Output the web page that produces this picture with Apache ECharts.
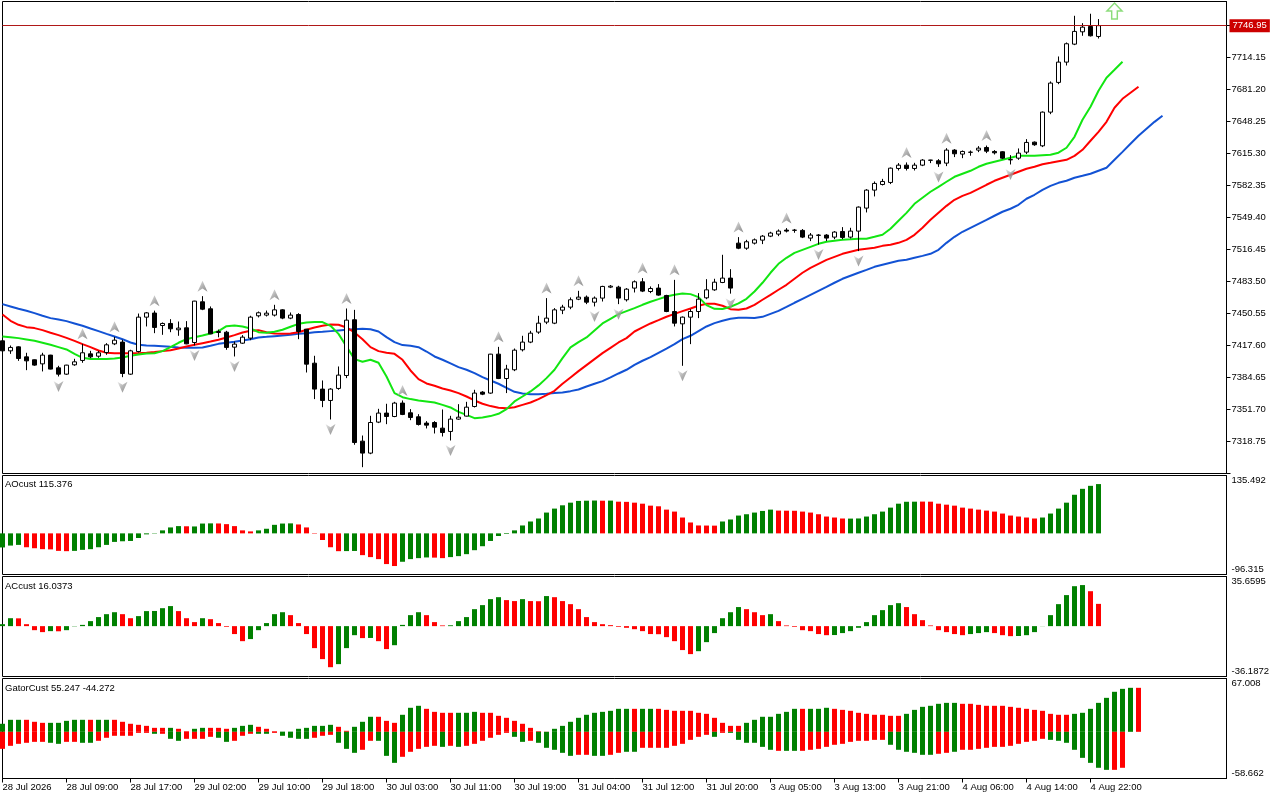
<!DOCTYPE html>
<html><head><meta charset="utf-8">
<script src="https://cdn.jsdelivr.net/npm/echarts@6/dist/echarts.min.js"></script>
<style>html,body{margin:0;padding:0;background:#fff}#c{width:1280px;height:800px}</style>
</head><body><div id="c"></div>
<script>
const tickLabels = ["28 Jul 2026","28 Jul 09:00","28 Jul 17:00","29 Jul 02:00","29 Jul 10:00","29 Jul 18:00","30 Jul 03:00","30 Jul 11:00","30 Jul 19:00","31 Jul 04:00","31 Jul 12:00","31 Jul 20:00","3 Aug 05:00","3 Aug 13:00","3 Aug 21:00","4 Aug 06:00","4 Aug 14:00","4 Aug 22:00"];

const opens = [7422.4,7412.1,7416.2,7405.9,7402.9,7398.7,7407.7,7394.6,7388.1,7397.7,
7402.2,7409.0,7406.6,7410.4,7419.3,7421.1,7388.1,7411.4,7446.8,7451.0,
7438.2,7440.3,7433.8,7435.8,7420.7,7462.6,7455.4,7431.0,7431.3,7415.9,
7420.0,7425.2,7448.2,7448.9,7448.9,7454.3,7445.8,7449.5,7434.4,7399.4,
7372.7,7361.0,7373.4,7386.7,7444.1,7319.1,7306.8,7338.7,7348.0,7344.5,
7358.3,7348.3,7344.2,7337.7,7338.3,7332.5,7329.1,7341.8,7344.9,7354.8,
7369.6,7368.6,7408.7,7383.6,7392.6,7413.2,7421.1,7431.4,7441.7,7440.6,
7454.0,7457.1,7465.3,7467.4,7462.2,7466.4,7477.7,7477.7,7464.7,7476.7,
7483.2,7473.2,7476.7,7469.1,7452.6,7439.9,7446.8,7452.6,7466.7,7474.9,
7482.5,7487.0,7523.0,7517.8,7523.0,7526.1,7530.2,7532.3,7536.4,7536.2,
7536.1,7528.2,7531.0,7531.3,7529.2,7535.0,7529.2,7535.4,7559.1,7577.6,
7583.4,7585.5,7599.9,7603.3,7599.9,7603.3,7608.3,7607.8,7605.4,7618.8,
7614.7,7616.5,7618.8,7621.5,7617.4,7617.1,7609.0,7610.5,7616.7,7627.0,
7623.2,7657.9,7688.5,7709.4,7727.9,7740.6,7746.1,7735.8];
const highs = [7424.1,7417.6,7416.8,7410.1,7403.2,7410.1,7408.0,7396.7,7397.7,7403.9,
7419.3,7412.1,7412.1,7420.0,7426.5,7423.5,7413.2,7450.5,7452.0,7453.5,
7441.3,7444.7,7442.3,7442.7,7463.6,7468.4,7457.8,7434.0,7432.7,7421.7,
7428.3,7448.2,7452.6,7453.6,7459.5,7455.0,7451.6,7450.9,7434.6,7407.0,
7381.6,7373.7,7396.0,7455.7,7454.3,7324.9,7345.2,7352.4,7357.6,7359.6,
7361.0,7352.1,7346.9,7339.7,7339.7,7351.7,7345.2,7357.2,7359.6,7372.0,
7370.6,7409.0,7416.2,7397.7,7414.5,7427.6,7432.7,7448.2,7466.4,7456.1,
7459.5,7467.1,7473.9,7469.1,7468.1,7479.1,7479.8,7479.1,7476.7,7484.6,
7487.0,7478.4,7480.8,7469.8,7485.2,7447.5,7455.0,7471.5,7485.9,7486.3,
7511.0,7496.2,7529.2,7526.4,7527.8,7531.3,7534.7,7537.1,7538.5,7537.6,
7537.5,7533.4,7532.3,7532.3,7535.4,7539.5,7538.8,7560.8,7578.6,7586.5,
7589.2,7600.9,7605.4,7606.1,7605.7,7609.5,7608.8,7609.5,7620.8,7619.8,
7618.4,7618.4,7622.9,7623.5,7618.8,7617.7,7613.6,7620.5,7630.1,7627.7,
7658.6,7689.5,7715.2,7729.6,7757.1,7749.5,7759.2,7753.7];
const lows = [7411.4,7409.0,7401.8,7392.2,7396.7,7390.9,7393.0,7385.7,7387.4,7396.7,
7399.8,7404.6,7404.9,7408.0,7418.0,7385.0,7387.4,7410.4,7437.2,7430.3,
7428.6,7431.3,7427.6,7418.9,7417.6,7454.0,7429.3,7426.0,7413.2,7406.3,
7419.3,7423.1,7446.5,7447.5,7447.5,7444.7,7444.7,7424.1,7389.8,7362.4,
7354.1,7341.4,7372.0,7384.0,7315.4,7292.3,7305.7,7337.7,7336.6,7343.8,
7345.9,7340.7,7335.2,7332.2,7327.0,7323.9,7319.8,7341.1,7344.5,7353.8,
7366.5,7367.9,7383.0,7368.6,7391.2,7411.5,7420.0,7429.6,7439.6,7439.6,
7449.9,7455.0,7464.3,7460.2,7457.8,7462.9,7476.7,7460.2,7462.9,7472.2,
7472.6,7471.5,7468.8,7451.9,7437.2,7396.7,7419.0,7445.8,7465.3,7473.9,
7481.8,7471.0,7516.8,7516.1,7521.6,7522.0,7529.2,7530.2,7534.0,7533.7,
7528.2,7525.1,7521.5,7525.1,7527.1,7527.1,7527.8,7514.8,7554.6,7571.1,
7582.4,7583.8,7597.8,7597.8,7597.8,7602.3,7605.4,7601.5,7602.3,7611.6,
7610.5,7613.0,7616.7,7615.7,7614.3,7609.5,7604.0,7608.8,7614.7,7623.2,
7621.9,7655.8,7686.7,7705.9,7726.9,7736.5,7735.8,7733.7];
const closes = [7412.1,7415.6,7404.2,7401.8,7397.4,7407.7,7393.3,7388.1,7397.4,7400.8,
7410.1,7405.9,7410.1,7418.3,7423.1,7388.8,7412.1,7446.8,7451.2,7436.2,
7440.3,7434.8,7435.5,7419.3,7463.3,7455.0,7429.6,7432.0,7415.6,7419.0,
7426.2,7446.8,7451.3,7450.9,7454.3,7445.8,7448.9,7432.0,7398.4,7372.7,
7361.0,7372.7,7387.1,7443.7,7317.7,7306.8,7338.3,7348.0,7344.5,7358.3,
7346.6,7343.5,7336.3,7335.6,7333.5,7328.0,7341.8,7343.8,7354.1,7368.6,
7367.5,7408.7,7383.6,7393.3,7412.8,7421.1,7430.3,7440.6,7445.8,7454.3,
7457.1,7464.7,7467.4,7462.2,7466.4,7478.4,7478.7,7466.4,7475.6,7483.2,
7473.6,7476.3,7469.5,7452.6,7440.6,7446.8,7452.6,7465.3,7474.9,7482.8,
7487.0,7476.7,7517.8,7524.4,7526.4,7530.2,7533.4,7535.4,7535.4,7536.4,
7529.2,7531.3,7531.3,7528.2,7534.4,7528.9,7535.4,7560.1,7577.6,7584.5,
7586.5,7600.2,7603.3,7599.9,7603.3,7608.5,7608.5,7604.7,7618.8,7615.0,
7617.4,7616.7,7620.8,7617.7,7616.0,7610.5,7608.8,7615.7,7626.7,7624.3,
7657.9,7687.8,7709.4,7728.3,7741.0,7745.4,7736.5,7746.95];

const lips = [7426.9,7426.2,7425.2,7423.8,7422.4,7420.4,7418.3,7415.9,7413.5,7409.0,
7404.9,7403.6,7403.6,7403.6,7404.2,7405.3,7407.0,7408.4,7409.4,7409.7,
7411.8,7415.9,7420.4,7424.1,7426.2,7427.9,7430.0,7432.4,7437.5,7438.2,
7437.2,7435.1,7431.3,7430.7,7431.7,7433.8,7436.9,7439.9,7441.3,7441.7,
7441.7,7437.9,7429.6,7416.6,7403.6,7400.8,7402.9,7399.8,7385.7,7368.6,
7364.4,7362.4,7361.0,7360.0,7358.9,7356.5,7353.8,7349.3,7346.2,7342.8,
7343.5,7344.9,7347.3,7352.1,7360.0,7365.1,7370.3,7376.5,7384.0,7392.6,
7404.6,7415.6,7421.1,7425.9,7433.1,7440.3,7445.1,7449.9,7453.0,7456.1,
7459.5,7462.6,7465.3,7468.1,7469.8,7471.2,7470.5,7467.4,7459.2,7455.4,
7455.1,7457.5,7460.9,7465.7,7473.2,7482.2,7492.5,7501.7,7507.9,7513.0,
7516.1,7519.2,7522.3,7524.4,7525.4,7526.4,7526.9,7527.5,7527.5,7529.5,
7531.6,7537.8,7546.0,7554.2,7563.5,7569.7,7575.9,7581.0,7586.2,7591.3,
7594.4,7597.5,7601.6,7604.7,7606.8,7608.8,7610.9,7613.0,7613.0,7613.0,
7613.5,7614.0,7616.1,7621.2,7632.5,7650.0,7663.4,7679.9,7693.3,7701.5,
7709.8];
const teeth = [7449.5,7443.0,7438.9,7436.5,7435.5,7433.4,7430.7,7428.3,7425.5,7422.4,
7419.0,7415.9,7412.5,7410.1,7409.7,7409.7,7409.7,7409.7,7410.1,7410.8,
7411.8,7412.8,7414.5,7416.6,7418.3,7420.0,7421.7,7423.5,7425.9,7428.3,
7431.0,7432.7,7433.4,7431.3,7430.0,7429.6,7430.0,7431.3,7433.8,7436.2,
7437.9,7439.2,7438.9,7436.2,7431.0,7424.1,7415.9,7411.8,7410.1,7409.0,
7402.9,7391.9,7383.0,7378.5,7376.1,7373.4,7371.3,7368.6,7365.1,7361.0,
7357.6,7355.2,7353.4,7353.1,7354.1,7356.5,7358.9,7362.4,7366.5,7370.9,
7378.2,7384.7,7391.2,7397.4,7403.6,7409.7,7415.2,7420.7,7425.2,7432.0,
7436.2,7440.3,7443.7,7447.2,7450.2,7453.0,7455.7,7458.5,7460.5,7460.5,
7458.5,7455.0,7454.3,7455.7,7459.5,7464.7,7469.8,7475.0,7480.1,7486.3,
7492.5,7497.6,7501.7,7505.8,7508.9,7512.0,7514.1,7516.1,7517.2,7518.2,
7520.2,7521.3,7523.3,7526.4,7531.6,7538.8,7547.0,7554.2,7561.4,7567.6,
7571.7,7574.8,7578.9,7583.1,7587.2,7590.3,7593.4,7596.5,7599.6,7601.6,
7604.2,7605.7,7607.3,7608.8,7612.9,7619.1,7628.4,7637.6,7647.9,7662.4,
7671.6,7677.8,7684.0];
const jaw = [7460.2,7457.8,7455.4,7453.3,7450.9,7448.2,7445.8,7444.4,7442.7,7440.3,
7437.9,7435.1,7432.4,7429.6,7426.9,7424.1,7420.7,7418.3,7417.6,7417.3,
7416.9,7416.2,7415.6,7415.2,7415.2,7415.6,7417.3,7419.3,7420.4,7421.4,
7422.8,7424.1,7425.9,7426.5,7427.2,7427.9,7428.6,7429.6,7430.3,7431.3,
7431.7,7432.4,7433.1,7433.8,7434.4,7434.8,7434.4,7432.0,7426.2,7421.1,
7418.0,7417.3,7415.9,7411.4,7406.3,7402.9,7399.1,7395.3,7392.6,7389.1,
7385.0,7381.6,7378.2,7374.0,7369.9,7368.2,7367.5,7367.5,7367.9,7368.6,
7369.2,7370.6,7372.3,7375.4,7378.2,7380.9,7384.7,7388.8,7392.6,7397.7,
7401.9,7405.6,7410.1,7414.5,7419.0,7424.2,7427.6,7432.4,7437.2,7440.6,
7443.0,7445.1,7446.1,7446.1,7445.8,7447.1,7450.2,7453.3,7457.4,7461.6,
7465.7,7469.8,7473.9,7478.0,7482.2,7486.3,7489.4,7492.5,7495.5,7498.6,
7500.7,7502.8,7504.8,7505.8,7507.9,7509.9,7512.0,7516.1,7523.3,7529.5,
7534.7,7538.8,7542.9,7547.0,7551.2,7555.3,7558.4,7562.5,7568.7,7572.8,
7577.9,7582.0,7585.1,7587.2,7590.3,7592.3,7594.4,7597.5,7600.6,7608.8,
7617.0,7625.3,7633.5,7640.7,7647.9,7654.1];

const fractalUpBars = [10,14,19,25,34,43,50,62,68,72,80,84,92,98,113,118,123];
const fractalDownBars = [7,15,24,29,41,56,74,77,85,91,102,107,117,126];
const signalArrow = [139, 7762.0];
const lastPrice = 7746.95;

const aoValues = [-33.0,-28.6,-27.0,-32.5,-34.8,-37.0,-37.5,-41.0,-41.7,-41.0,
-38.6,-37.0,-32.5,-27.0,-20.0,-18.5,-17.8,-10.8,-2.3,-0.8,
7.0,13.9,17.0,16.6,16.2,23.0,23.4,23.2,21.6,17.0,
7.0,4.6,7.0,10.8,20.0,23.0,23.4,20.9,13.9,-1.0,
-15.5,-32.5,-41.7,-41.5,-41.2,-51.0,-55.6,-60.3,-71.9,-76.5,
-66.5,-60.3,-58.0,-56.4,-56.8,-58.0,-55.6,-53.3,-48.7,-39.4,
-30.1,-17.8,-6.2,-1.5,7.0,18.5,27.8,34.8,48.7,58.0,
65.7,71.9,76.0,76.5,76.9,76.5,76.7,74.2,73.8,71.9,
69.5,64.9,63.4,55.6,51.0,37.1,25.5,18.5,18.3,18.1,
27.8,32.5,41.7,44.8,48.7,52.5,55.6,53.3,53.1,52.9,
51.0,48.7,44.8,39.4,37.1,34.8,34.6,34.9,39.4,44.8,
51.0,60.3,69.5,74.0,74.2,74.4,74.2,69.5,67.2,64.9,
60.3,58.0,55.6,53.3,51.0,46.4,41.7,39.4,37.1,34.8,
37.1,46.4,58.0,71.9,90.4,104.3,111.3,115.4];
const aoUp = [1,1,1,0,0,0,0,0,0,1, 1,1,1,1,1,1,1,1,1,1, 1,1,1,0,1,1,1,0,0,0, 0,0,1,1,1,1,1,0,0,0,
0,0,0,1,1,0,0,0,0,0, 1,1,1,1,0,0,1,1,1,1, 1,1,1,1,1,1,1,1,1,1, 1,1,1,1,1,0,1,0,0,0,
0,0,0,0,0,0,0,0,0,0, 1,1,1,1,1,1,1,0,0,0, 0,0,0,0,0,0,1,1,1,1, 1,1,1,1,1,0,0,0,0,0,
0,0,0,0,0,0,0,0,0,0, 1,1,1,1,1,1,1,1];

const acValues = [1.4,5.7,5.6,1.4,-2.9,-4.3,-3.6,-3.7,-2.9,-0.2,
0.9,3.6,6.5,8.6,10.0,8.6,5.7,7.2,10.8,10.9,
12.9,14.4,10.8,5.7,2.9,5.7,5.0,2.2,-0.5,-5.7,
-10.8,-9.3,-2.9,2.2,8.6,10.0,7.9,2.2,-5.7,-15.8,
-23.7,-29.5,-27.3,-15.8,-6.5,-8.6,-8.5,-10.8,-16.5,-13.7,
0.9,7.9,10.0,7.9,2.9,0.5,0.6,3.6,6.5,12.2,
15.1,19.4,20.8,18.7,18.0,19.4,18.0,17.9,21.6,20.8,
18.0,15.8,12.2,6.5,2.9,1.4,0.7,-0.5,-1.2,-2.2,
-3.6,-5.7,-5.8,-7.9,-10.8,-17.2,-20.1,-18.0,-11.5,-5.0,
5.7,10.0,13.7,12.2,10.0,7.9,8.6,3.6,0.5,-0.5,
-2.9,-3.6,-5.7,-6.5,-6.4,-5.0,-3.6,-1.2,2.9,7.9,
11.5,15.1,16.5,13.7,8.6,4.3,0.5,-2.9,-4.3,-5.7,
-6.5,-5.7,-5.0,-4.3,-5.0,-6.5,-7.2,-7.1,-6.5,-4.3,
0.1,7.9,15.8,22.3,28.7,29.5,25.1,16.0];
const acUp = [1,1,0,0,0,0,1,0,1,1, 1,1,1,1,1,0,0,1,1,1, 1,1,0,0,0,1,0,0,0,0, 0,1,1,1,1,1,0,0,0,0,
0,0,1,1,1,0,1,0,0,1, 1,1,1,0,0,0,1,1,1,1, 1,1,1,0,0,1,0,0,1,0, 0,0,0,0,0,0,0,0,0,0,
0,0,0,0,0,0,0,1,1,1, 1,1,1,0,0,0,1,0,0,0, 0,0,0,0,1,1,1,1,1,1, 1,1,1,0,0,0,0,0,0,0,
0,1,1,1,0,0,0,1,1,1, 1,1,1,1,1,1,0,0];

const gatorUpper = [10.1,15.1,15.1,15.1,12.6,11.3,11.3,11.3,13.8,15.1,
15.1,15.1,15.1,15.1,15.1,12.6,10.1,8.8,7.5,5.0,
5.0,5.0,3.8,0.8,3.8,5.0,5.0,5.0,3.8,5.0,
7.5,8.8,6.3,3.8,0.8,0.3,0.3,3.8,5.0,7.5,
7.5,8.8,6.3,1.3,6.3,12.6,18.9,18.9,13.8,11.3,
21.4,30.2,32.7,28.9,25.1,23.9,23.9,23.9,23.9,25.1,
23.9,23.9,20.1,17.6,13.8,10.1,5.0,0.8,0.2,3.8,
7.5,12.6,17.6,21.4,23.9,25.1,26.4,28.9,28.9,28.9,
28.9,28.9,28.9,27.6,26.4,26.4,26.4,23.9,22.6,17.6,
11.3,7.5,7.5,11.3,15.1,18.9,18.9,22.6,25.1,28.9,
28.9,28.9,28.9,30.2,28.9,27.6,26.4,23.9,22.6,21.4,
21.4,20.1,20.1,22.6,27.6,31.4,32.7,35.2,36.4,36.4,
35.2,35.2,33.9,32.7,32.7,32.7,31.4,30.2,28.9,27.6,
26.4,22.6,21.4,21.4,22.6,23.9,28.9,36.4,42.7,50.3,
54.0,55.3,55.3];
const gatorUpperUp = [1,1,1,0,0,0,1,1,1,1, 1,0,1,1,0,0,0,0,0,0, 0,1,0,0,1,1,0,0,0,1, 1,1,0,0,0,1,1,1,1,1,
1,1,0,0,1,1,1,0,0,0, 1,1,1,0,0,0,0,1,1,1, 0,0,0,0,0,0,0,0,0,1, 1,1,1,1,1,1,1,1,1,0,
1,1,0,0,0,0,0,0,0,0, 0,0,0,1,1,1,1,1,1,1, 0,1,1,1,0,0,0,0,0,0, 0,0,0,1,1,1,1,1,1,1,
0,0,0,0,0,0,0,0,0,0, 0,0,0,0,1,1,1,1,1,1, 1,1,0];
const gatorLower = [-21.4,-17.6,-15.1,-13.8,-12.6,-12.6,-13.8,-15.1,-12.6,-12.6,
-13.8,-13.8,-11.3,-7.5,-5.0,-5.0,-5.0,-1.3,-1.3,-2.5,
-2.5,-8.8,-11.3,-8.8,-8.8,-8.8,-6.3,-7.5,-12.6,-11.3,
-5.0,-2.5,-2.5,-2.5,-1.3,-5.0,-7.5,-8.8,-8.8,-7.5,
-5.0,-3.8,-13.8,-21.4,-26.4,-22.6,-11.3,-11.3,-30.2,-39.0,
-31.4,-25.1,-21.4,-18.9,-17.6,-18.9,-17.6,-18.9,-17.6,-15.1,
-11.3,-7.5,-3.8,-1.3,-6.3,-12.6,-11.3,-13.8,-20.1,-22.6,
-26.4,-30.2,-28.9,-28.9,-30.2,-30.2,-28.9,-26.4,-25.1,-25.1,
-20.1,-20.1,-20.1,-20.1,-17.6,-15.1,-10.1,-6.3,-3.8,-6.3,
-1.3,-1.3,-10.1,-13.8,-13.8,-18.9,-22.6,-23.9,-23.9,-23.9,
-23.9,-22.6,-21.4,-18.9,-16.3,-15.1,-12.6,-11.3,-11.3,-10.1,
-10.1,-16.3,-22.6,-25.1,-26.4,-28.9,-28.9,-27.6,-26.4,-25.1,
-22.6,-22.6,-21.4,-20.1,-18.9,-18.9,-17.6,-15.1,-12.6,-11.3,
-8.8,-10.1,-11.3,-13.8,-22.6,-32.7,-39.0,-45.2,-47.8,-47.8,
-45.2];
const gatorLowerUp = [0,0,0,0,0,0,1,1,0,0, 1,1,0,0,0,0,0,0,0,1, 0,1,1,0,0,0,0,1,1,0, 0,0,1,1,0,1,1,1,1,0,
0,0,1,1,1,0,0,1,1,1, 0,0,0,0,0,1,0,1,0,0, 0,0,0,0,1,1,0,1,1,1, 1,1,0,0,1,1,0,0,1,1,
0,0,0,0,0,0,0,0,0,1, 0,1,1,1,1,1,1,0,1,1, 0,0,0,0,0,0,0,0,0,0, 0,1,1,1,1,1,1,0,0,1,
0,0,0,0,0,0,0,0,0,0, 0,1,1,1,1,1,1,1,1,0, 0];

const aoScale = {min: -96.315, max: 135.492, dec: 3};
const acScale = {min: -36.1872, max: 35.6595, dec: 4};
const gatorScale = {min: -58.662, max: 67.008, dec: 3};

// ---------- build ----------
const FONT = '"Liberation Sans", Arial, sans-serif';
const GREEN = '#008000', RED = '#ff0000';
const N = 154;
const cats = Array.from({length: N}, (_, i) => String(i));
const grids = [
  {left: 2.5, right: 53.5, top: 1.5, height: 472},
  {left: 2.5, right: 53.5, top: 475.5, height: 99},
  {left: 2.5, right: 53.5, top: 576.5, height: 100},
  {left: 2.5, right: 53.5, top: 678.5, height: 100}
];
const isTick = (i) => i % 8 === 0 && i / 8 < tickLabels.length;

function subY(k, sc) {
  return {
    type: 'value', gridIndex: k, position: 'right', min: sc.min, max: sc.max, interval: sc.max - sc.min,
    axisLine: {show: true, lineStyle: {color: '#000', width: 1}},
    axisTick: {show: false}, splitLine: {show: false},
    axisLabel: {color: '#000', fontSize: 9.5, fontFamily: FONT, margin: 5, showMinLabel: true, showMaxLabel: true,
      formatter: (v) => v > 0 ? '\n' + sc.max.toFixed(sc.dec) : sc.min.toFixed(sc.dec) + '\n'}
  };
}
function colored(vals, ups) {
  return vals.map((v, i) => ({value: v, itemStyle: {color: ups[i] ? GREEN : RED}}));
}
const greyGrad = {type: 'linear', x: 0, y: 0, x2: 1, y2: 1, colorStops: [{offset: 0, color: '#e6e6e6'}, {offset: 0.5, color: '#a0a0a0'}, {offset: 1, color: '#6e6e6e'}]};

const option = {
  animation: false,
  backgroundColor: '#fff',
  textStyle: {fontFamily: FONT},
  title: [
    {text: 'AOcust 115.376', left: 5, top: 479, padding: 0, textStyle: {fontSize: 9.5, fontWeight: 'normal', color: '#000', fontFamily: FONT}},
    {text: 'ACcust 16.0373', left: 5, top: 581, padding: 0, textStyle: {fontSize: 9.5, fontWeight: 'normal', color: '#000', fontFamily: FONT}},
    {text: 'GatorCust 55.247 -44.272', left: 5, top: 683, padding: 0, textStyle: {fontSize: 9.5, fontWeight: 'normal', color: '#000', fontFamily: FONT}}
  ],
  grid: grids.map(g => Object.assign({show: true, borderColor: '#000', borderWidth: 1, backgroundColor: '#fff', outerBoundsMode: 'none', containLabel: false}, g)),
  xAxis: [0, 1, 2, 3].map(k => ({
    type: 'category', gridIndex: k, data: cats, boundaryGap: false,
    axisLine: {show: k === 3, onZero: false, lineStyle: {color: '#000'}}, splitLine: {show: false},
    axisTick: {show: k === 3, length: 4, interval: (i) => isTick(i), lineStyle: {color: '#000'}},
    axisLabel: {show: k === 3, interval: (i) => isTick(i), formatter: (v, i) => tickLabels[i / 8] || '',
      align: 'left', margin: 4, color: '#000', fontSize: 9.5, fontFamily: FONT, hideOverlap: false}
  })),
  yAxis: [
    {type: 'value', gridIndex: 0, position: 'right', min: 7285.80, max: 7771.81, interval: 32.95,
      axisLine: {show: true, lineStyle: {color: '#000'}},
      axisTick: {show: true, length: 4, lineStyle: {color: '#000'}},
      splitLine: {show: false},
      axisLabel: {color: '#000', fontSize: 9.5, fontFamily: FONT, margin: 5, showMinLabel: true, showMaxLabel: false,
        formatter: (v) => (v < 7300 || v > 7735) ? '' : v.toFixed(2)}},
    subY(1, aoScale), subY(2, acScale), subY(3, gatorScale)
  ],
  series: [
    {type: 'line', name: 'jaw', xAxisIndex: 0, yAxisIndex: 0, data: jaw, showSymbol: false, symbol: 'none', z: 2,
      lineStyle: {color: '#1252d4', width: 2}},
    {type: 'line', name: 'teeth', xAxisIndex: 0, yAxisIndex: 0, data: teeth, showSymbol: false, symbol: 'none', z: 2,
      lineStyle: {color: '#ff0000', width: 2}},
    {type: 'line', name: 'lips', xAxisIndex: 0, yAxisIndex: 0, data: lips, showSymbol: false, symbol: 'none', z: 2,
      lineStyle: {color: '#12e612', width: 2}},
    {type: 'candlestick', xAxisIndex: 0, yAxisIndex: 0, z: 4, barWidth: 5,
      data: opens.map((o, i) => [o, closes[i], lows[i], highs[i]]),
      itemStyle: {color: '#ffffff', color0: '#000000', borderColor: '#000000', borderColor0: '#000000', borderColorDoji: '#000000', borderWidth: 1},
      markLine: {symbol: 'none', silent: true, animation: false,
        lineStyle: {color: '#b01818', width: 1, type: 'solid'},
        label: {show: true, position: 'end', distance: 3, formatter: lastPrice.toFixed(2), color: '#fff', backgroundColor: '#cc0000',
          padding: [2, 3, 1, 3], fontSize: 9.5, fontFamily: FONT},
        emphasis: {disabled: true},
        data: [{yAxis: lastPrice}]}},
    {type: 'scatter', xAxisIndex: 0, yAxisIndex: 0, z: 6, symbol: 'path://M5,0L10,12L5,8.5L0,12Z', symbolSize: [10, 11], symbolOffset: [0, -10],
      itemStyle: {color: greyGrad}, data: fractalUpBars.map(i => [i, highs[i]])},
    {type: 'scatter', xAxisIndex: 0, yAxisIndex: 0, z: 6, symbol: 'path://M0,0L5,3.5L10,0L5,12Z', symbolSize: [10, 11], symbolOffset: [0, 10],
      itemStyle: {color: greyGrad}, data: fractalDownBars.map(i => [i, lows[i]])},
    {type: 'scatter', xAxisIndex: 0, yAxisIndex: 0, z: 6, symbol: 'path://M8,0L16,8L11,8L11,16L5,16L5,8L0,8Z', symbolSize: [15, 16],
      itemStyle: {color: '#ffffff', borderColor: '#6fd35a', borderWidth: 1.5}, data: [signalArrow]},
    {type: 'bar', xAxisIndex: 1, yAxisIndex: 1, barWidth: 5, data: colored(aoValues, aoUp)},
    {type: 'bar', xAxisIndex: 2, yAxisIndex: 2, barWidth: 5, data: colored(acValues, acUp)},
    {type: 'bar', xAxisIndex: 3, yAxisIndex: 3, barWidth: 5, barGap: '-100%', data: colored(gatorUpper, gatorUpperUp)},
    {type: 'bar', xAxisIndex: 3, yAxisIndex: 3, barWidth: 5, barGap: '-100%', data: colored(gatorLower, gatorLowerUp)}
  ]
};
const chart = echarts.init(document.getElementById('c'), null, {renderer: 'canvas'});
chart.setOption(option);
</script>
</body></html>
